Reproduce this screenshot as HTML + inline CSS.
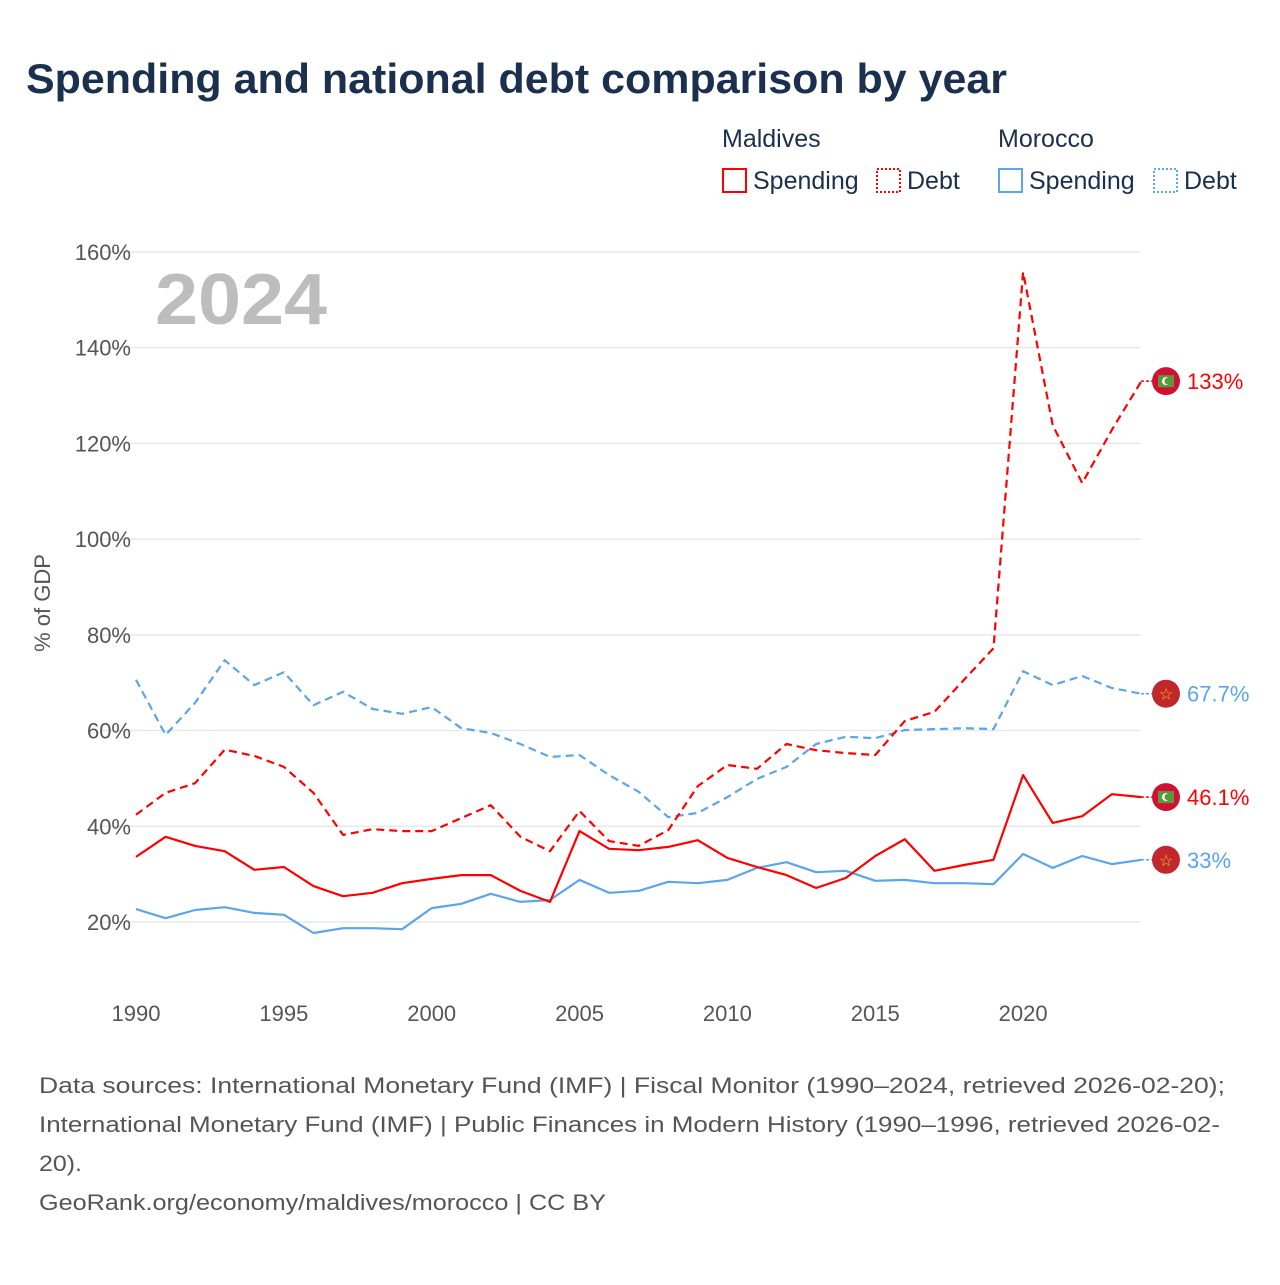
<!DOCTYPE html>
<html><head><meta charset="utf-8"><style>
body{margin:0;width:1280px;height:1280px;background:#fff;font-family:"Liberation Sans",sans-serif;overflow:hidden}
svg text{font-family:"Liberation Sans",sans-serif}
</style></head><body>
<svg id="c" width="1280" height="1280">
<text x="26" y="93" font-size="42" font-weight="bold" fill="#1b2f4e" textLength="981" lengthAdjust="spacingAndGlyphs">Spending and national debt comparison by year</text>
<g font-size="25" fill="#1b2f4e">
<text x="722" y="147" fill="#1b2f4e">Maldives</text>
<text x="998" y="147" fill="#1b2f4e">Morocco</text>
<rect x="723" y="169" width="23" height="23" fill="none" stroke="#f00" stroke-width="2"/>
<text x="753" y="189" fill="#1b2f4e">Spending</text>
<rect x="877" y="169" width="23" height="23" fill="none" stroke="#f00" stroke-width="2" stroke-dasharray="2,2"/>
<text x="907" y="189" fill="#1b2f4e">Debt</text>
<rect x="999" y="169" width="23" height="23" fill="none" stroke="#5aa5ec" stroke-width="2"/>
<text x="1029" y="189" fill="#1b2f4e">Spending</text>
<rect x="1154" y="169" width="23" height="23" fill="none" stroke="#5aa5ec" stroke-width="2" stroke-dasharray="2,2"/>
<text x="1184" y="189" fill="#1b2f4e">Debt</text>
</g>
<text x="155" y="324" font-size="72" font-weight="bold" fill="#bdbdbd" textLength="172" lengthAdjust="spacingAndGlyphs">2024</text>
<text transform="translate(50,603) rotate(-90)" text-anchor="middle" font-size="22" fill="#555">% of GDP</text>
<g id="grid"></g><g id="series"></g><g id="ends"></g>
<g font-size="22" fill="#555">
<text x="39" y="1093" textLength="1186" lengthAdjust="spacingAndGlyphs">Data sources: International Monetary Fund (IMF) | Fiscal Monitor (1990–2024, retrieved 2026-02-20);</text>
<text x="39" y="1132" textLength="1181" lengthAdjust="spacingAndGlyphs">International Monetary Fund (IMF) | Public Finances in Modern History (1990–1996, retrieved 2026-02-</text>
<text x="39" y="1171" textLength="43" lengthAdjust="spacingAndGlyphs">20).</text>
<text x="39" y="1210" textLength="567" lengthAdjust="spacingAndGlyphs">GeoRank.org/economy/maldives/morocco | CC BY</text>
</g>
</svg>
<script>
const years=[];for(let y=1990;y<=2024;y++)years.push(y);
const mvSpending=[33.6,37.8,35.9,34.8,30.9,31.5,27.5,25.4,26.1,28.1,29,29.8,29.8,26.5,24.2,39,35.3,35,35.7,37.1,33.4,31.5,29.8,27.1,29.2,33.8,37.3,30.7,31.9,33,50.7,40.7,42.1,46.7,46.1];
const mvDebt=[42.4,47,49,56,54.7,52.4,47,38.2,39.4,39,39,41.7,44.4,37.8,34.8,43.2,36.9,35.9,39.2,48.4,52.8,52,57.2,55.9,55.3,54.9,62,63.9,70.6,77.2,155.8,123.8,111.7,122.8,133];
const maSpending=[22.7,20.8,22.5,23.1,21.9,21.5,17.7,18.7,18.7,18.5,22.9,23.8,25.9,24.2,24.6,28.8,26.1,26.5,28.4,28.1,28.8,31.3,32.5,30.4,30.7,28.6,28.8,28.1,28.1,27.9,34.2,31.3,33.8,32.1,33];
const maDebt=[70.6,59.1,65.8,74.7,69.5,72.2,65.3,68.1,64.5,63.5,64.9,60.5,59.5,57.2,54.5,54.9,50.7,47.2,41.9,42.8,46.1,49.9,52.4,57.2,58.7,58.4,60.1,60.3,60.5,60.3,72.4,69.5,71.4,68.9,67.7];
const yTicks=[20,40,60,80,100,120,140,160];
const xTicks=[1990,1995,2000,2005,2010,2015,2020];
const NS="http://www.w3.org/2000/svg";
const X=y=>136+(y-1990)*29.57;
const Y=v=>922-(v-20)*4.786;
function mk(t,a,p){const e=document.createElementNS(NS,t);for(const k in a)e.setAttribute(k,a[k]);p.appendChild(e);return e;}
const grid=document.getElementById('grid');
yTicks.forEach(v=>{
 const l=mk('line',{x1:100,x2:1141,y1:Y(v),y2:Y(v),stroke:'#e8e8e8','stroke-width':1.5},grid);
 
 
 const t=mk('text',{x:131,y:Y(v)+8,'text-anchor':'end','font-size':22,fill:'#555'},grid);t.textContent=v+'%';
 
 
});
xTicks.forEach(y=>{
 const t=mk('text',{x:X(y),y:1021,'text-anchor':'middle','font-size':22,fill:'#555'},grid);t.textContent=y;
 
 
});
const ser=document.getElementById('series');
const defs=[[maSpending,'#5aa5ec',null,'morocco-spending-line'],[maDebt,'#5aa5ec','8,5','morocco-debt-line'],[mvSpending,'#f00',null,'maldives-spending-line'],[mvDebt,'#f00','8,5','maldives-debt-line']];
defs.forEach(([d,c,dash,n])=>{
 const pts=d.map((v,i)=>X(years[i]).toFixed(1)+','+Y(v).toFixed(1)).join(' ');
 const a={points:pts,fill:'none',stroke:c,'stroke-width':2.2,'stroke-linejoin':'round'};if(dash)a['stroke-dasharray']=dash;
 const p=mk('polyline',a,ser);
 
 
});
const ends=document.getElementById('ends');
const endDefs=[[mvDebt,'#f00','133%','mv'],[maDebt,'#5aa5ec','67.7%','ma'],[mvSpending,'#f00','46.1%','mv'],[maSpending,'#5aa5ec','33%','ma']];
endDefs.forEach(([d,c,lab,f],i)=>{
 const yy=Y(d[d.length-1]);
 mk('line',{x1:1141,x2:1153,y1:yy,y2:yy,stroke:c,'stroke-width':1.5,'stroke-dasharray':'3,2'},ends);
 const g=mk('g',{},ends);
 
 
 mk('circle',{cx:1166,cy:yy,r:14,fill:f=='mv'?'#d21034':'#c1272d'},g);
 if(f=='mv'){mk('rect',{x:1158,y:yy-6,width:16,height:12,fill:'#5a9a3a'},g);mk('circle',{cx:1166,cy:yy,r:4,fill:'#fff'},g);mk('circle',{cx:1168,cy:yy,r:3.5,fill:'#5a9a3a'},g);}
 else{const t=mk('text',{x:1166,y:yy+6,'text-anchor':'middle','font-size':16,fill:'#f5c400'},g);t.textContent='☆';}
 const t=mk('text',{x:1187,y:yy+8,'font-size':22,fill:c},ends);t.textContent=lab;
 
 
});
</script>
</body></html>
